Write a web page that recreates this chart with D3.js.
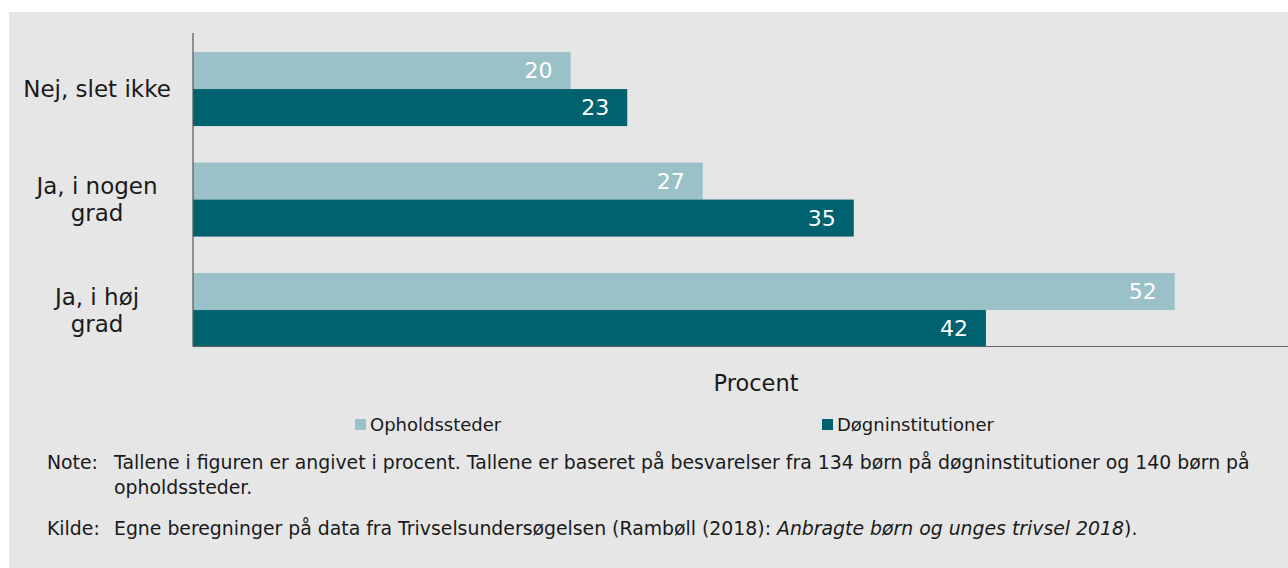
<!DOCTYPE html>
<html>
<head>
<meta charset="utf-8">
<script src="https://cdn.jsdelivr.net/npm/d3@7"></script>
<style>
  html, body { margin: 0; padding: 0; background: #fff; }
  svg { display: block; }
</style>
</head>
<body>
<div id="chart"></div>
<script>
// --- data ---
const categories = ["Nej, slet ikke", "Ja, i nogen grad", "Ja, i høj grad"];
const categoryLines = [["Nej, slet ikke"], ["Ja, i nogen", "grad"], ["Ja, i høj", "grad"]];
const seriesNames = ["Opholdssteder", "Døgninstitutioner"];
const opholdssteder = [20, 27, 52];
const dogninstitutioner = [23, 35, 42];
const axisTitle = "Procent";

const W = 1288, H = 568;
const colors = ["#9bc1c8", "#00626f"];
const textCol = "#1a1a1a";
const font = "'DejaVu Sans', Verdana, sans-serif";

const svg = d3.select("#chart").append("svg")
  .attr("width", W).attr("height", H);

// grey panel
svg.append("rect")
  .attr("x", 9).attr("y", 12)
  .attr("width", W - 9).attr("height", H - 12)
  .attr("fill", "#e6e6e6");

const x = d3.scaleLinear().domain([0, 58]).range([193, 1288]);
const y = d3.scaleBand().domain(categories).range([33.8, 365.3])
  .paddingInner(0.33).paddingOuter(0.165);
const ySub = d3.scaleBand().domain(seriesNames).range([0, y.bandwidth()]);

const rows = categories.map((c, i) => ({
  cat: c,
  vals: [
    { s: seriesNames[0], v: opholdssteder[i], k: 0 },
    { s: seriesNames[1], v: dogninstitutioner[i], k: 1 }
  ]
}));

const g = svg.append("g").selectAll("g")
  .data(rows).join("g")
  .attr("transform", d => `translate(0,${y(d.cat)})`);

g.selectAll("rect")
  .data(d => d.vals).join("rect")
  .attr("x", x(0))
  .attr("y", d => ySub(d.s))
  .attr("width", d => x(d.v) - x(0))
  .attr("height", ySub.bandwidth())
  .attr("fill", d => colors[d.k]);

g.selectAll("text.val")
  .data(d => d.vals).join("text")
  .attr("class", "val")
  .attr("x", d => x(d.v) - 18)
  .attr("y", d => ySub(d.s) + ySub.bandwidth() / 2)
  .attr("dy", "0.36em")
  .attr("text-anchor", "end")
  .attr("fill", "#fff")
  .style("font-family", font)
  .style("font-size", "22px")
  .text(d => d.v);

// axes lines
svg.append("line")
  .attr("x1", x(0)).attr("x2", x(0))
  .attr("y1", 33).attr("y2", 346.5)
  .attr("stroke", "#555").attr("stroke-width", 1.2);
svg.append("line")
  .attr("x1", x(0)).attr("x2", W)
  .attr("y1", 346.5).attr("y2", 346.5)
  .attr("stroke", "#666").attr("stroke-width", 1.2);

// category labels
svg.append("g").selectAll("text")
  .data(categories).join("text")
  .attr("text-anchor", "middle")
  .attr("fill", textCol)
  .style("font-family", font)
  .style("font-size", "23px")
  .each(function(d, i) {
    const lines = categoryLines[i];
    const cy = y(d) + y.bandwidth() / 2;
    const lh = 27;
    d3.select(this).selectAll("tspan")
      .data(lines).join("tspan")
      .attr("x", 97)
      .attr("y", (l, j) => cy + (j - (lines.length - 1) / 2) * lh)
      .attr("dy", "0.36em")
      .text(l => l);
  });

// axis title
svg.append("text")
  .attr("x", 756).attr("y", 391)
  .attr("text-anchor", "middle")
  .attr("fill", textCol)
  .style("font-family", font)
  .style("font-size", "22.5px")
  .text(axisTitle);

// legend
const legendX = [355, 822];
const leg = svg.append("g").selectAll("g")
  .data(seriesNames).join("g")
  .attr("transform", (d, i) => `translate(${legendX[i]},419)`);
leg.append("rect")
  .attr("width", 11).attr("height", 11)
  .attr("fill", (d, i) => colors[i]);
leg.append("text")
  .attr("x", 15).attr("y", 11.5)
  .attr("fill", textCol)
  .style("font-family", font)
  .style("font-size", "18px")
  .text(d => d);

// notes
const notes = svg.append("g")
  .attr("fill", textCol)
  .style("font-family", font)
  .style("font-size", "17px");
notes.append("text").attr("x", 47).attr("y", 469).text("Note:");
const line1 = notes.append("text").attr("x", 114).attr("y", 469)
  .text("Tallene i figuren er angivet i procent. Tallene er baseret på besvarelser fra 134 børn på døgninstitutioner og 140 børn på");
notes.append("text").attr("x", 114).attr("y", 494).text("opholdssteder.");
notes.append("text").attr("x", 47).attr("y", 535).text("Kilde:");
const src = notes.append("text").attr("x", 114).attr("y", 535);
src.append("tspan").text("Egne beregninger på data fra Trivselsundersøgelsen (Rambøll (2018): ");
src.append("tspan").style("font-style", "italic").text("Anbragte børn og unges trivsel 2018");
src.append("tspan").text(").");

// fit note font so the first line spans like the original
const w1 = line1.node().getComputedTextLength();
if (w1 > 0) notes.style("font-size", (17 * 1136 / w1).toFixed(2) + "px");
</script>
</body>
</html>
